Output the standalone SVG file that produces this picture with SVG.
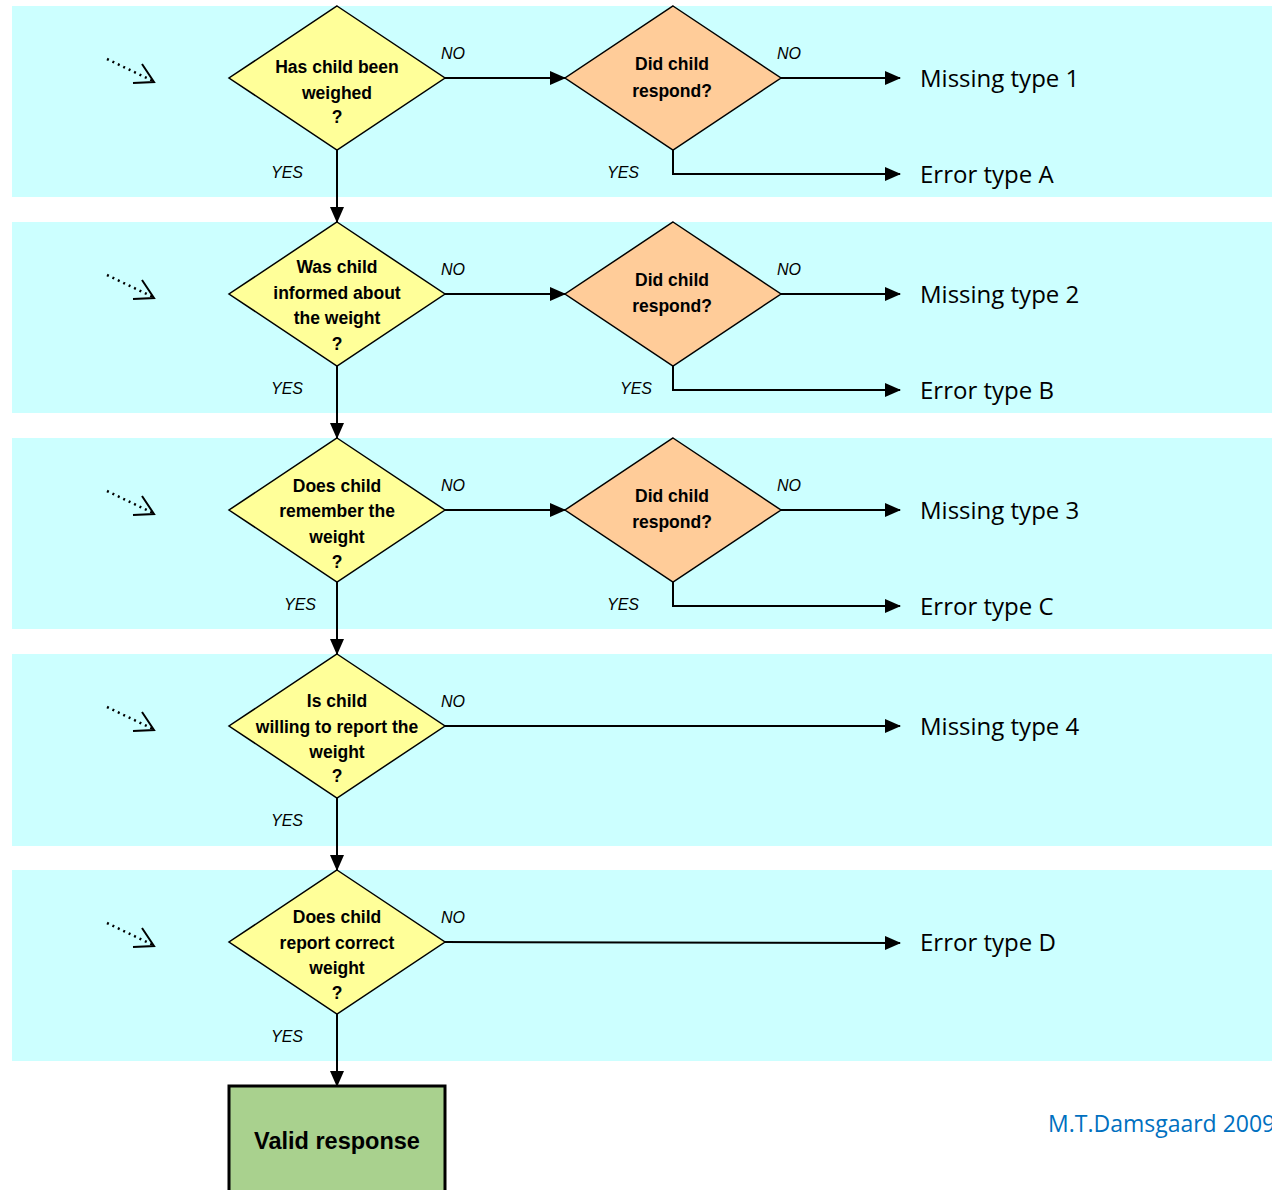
<svg xmlns="http://www.w3.org/2000/svg" width="1272" height="1190" viewBox="0 0 1272 1190">
<defs>
<marker id="ah" markerWidth="16" markerHeight="14" refX="15" refY="7" orient="auto" markerUnits="userSpaceOnUse">
<path d="M0,0 L16,7 L0,14 z" fill="#000"/>
</marker>
<g id="dotarrow">
<path d="M107,59 L153,81" stroke="#000" stroke-width="2.5" stroke-dasharray="2,4" fill="none"/>
<path d="M142,64 L154,82 L133,83" stroke="#000" stroke-width="2" fill="none"/>
</g>
</defs>
<style>
.band{fill:#ccffff}
.dq{fill:#ffff99;stroke:#000;stroke-width:1.5}
.dr{fill:#ffcc99;stroke:#000;stroke-width:1.5}
.t{font-family:"Liberation Sans",Arial,sans-serif;font-weight:bold;font-size:17.5px;text-anchor:middle;fill:#000}
.lbl{font-family:"Liberation Sans",Arial,sans-serif;font-style:italic;font-size:16px;text-anchor:middle;fill:#000}
.out{font-family:"Open Sans","Liberation Sans",sans-serif;font-size:24px;fill:#000}
.ln{stroke:#000;stroke-width:2;fill:none}
</style>
<rect width="1272" height="1190" fill="#fff"/>
<g id="bands">
<rect class="band" x="12" y="6" width="1260" height="191"/>
<rect class="band" x="12" y="222" width="1260" height="191"/>
<rect class="band" x="12" y="438" width="1260" height="191"/>
<rect class="band" x="12" y="654" width="1260" height="192"/>
<rect class="band" x="12" y="870" width="1260" height="191"/>
</g>
<g id="entry-arrows">
<use href="#dotarrow"/>
<use href="#dotarrow" y="216"/>
<use href="#dotarrow" y="432"/>
<use href="#dotarrow" y="648"/>
<use href="#dotarrow" y="864"/>
</g>
<g id="connectors">
<path class="ln" d="M445,78 L565,78" marker-end="url(#ah)"/>
<path class="ln" d="M781,78 L900,78" marker-end="url(#ah)"/>
<path class="ln" d="M673,150 L673,174 L900,174" marker-end="url(#ah)"/>
<path class="ln" d="M337,150 L337,222" marker-end="url(#ah)"/>
<path class="ln" d="M445,294 L565,294" marker-end="url(#ah)"/>
<path class="ln" d="M781,294 L900,294" marker-end="url(#ah)"/>
<path class="ln" d="M673,366 L673,390 L900,390" marker-end="url(#ah)"/>
<path class="ln" d="M337,366 L337,438" marker-end="url(#ah)"/>
<path class="ln" d="M445,510 L565,510" marker-end="url(#ah)"/>
<path class="ln" d="M781,510 L900,510" marker-end="url(#ah)"/>
<path class="ln" d="M673,582 L673,606 L900,606" marker-end="url(#ah)"/>
<path class="ln" d="M337,582 L337,654" marker-end="url(#ah)"/>
<path class="ln" d="M445,726 L900,726" marker-end="url(#ah)"/>
<path class="ln" d="M337,798 L337,870" marker-end="url(#ah)"/>
<path class="ln" d="M445,942 L900,943" marker-end="url(#ah)"/>
<path class="ln" d="M337,1014 L337,1086" marker-end="url(#ah)"/>
</g>
<g id="labels">
<text class="lbl" x="453" y="59">NO</text>
<text class="lbl" x="789" y="59">NO</text>
<text class="lbl" x="287" y="178">YES</text>
<text class="lbl" x="623" y="178">YES</text>
<text class="lbl" x="453" y="275">NO</text>
<text class="lbl" x="789" y="275">NO</text>
<text class="lbl" x="287" y="394">YES</text>
<text class="lbl" x="636" y="394">YES</text>
<text class="lbl" x="453" y="491">NO</text>
<text class="lbl" x="789" y="491">NO</text>
<text class="lbl" x="300" y="610">YES</text>
<text class="lbl" x="623" y="610">YES</text>
<text class="lbl" x="453" y="707">NO</text>
<text class="lbl" x="287" y="826">YES</text>
<text class="lbl" x="453" y="923">NO</text>
<text class="lbl" x="287" y="1042">YES</text>
</g>
<g id="q1">
<polygon class="dq" points="337,6 445,78 337,150 229,78"/>
<text class="t" x="337" y="73">Has child been</text>
<text class="t" x="337" y="99">weighed</text>
<text class="t" x="337" y="123">?</text>
</g>
<g id="r1">
<polygon class="dr" points="673,6 781,78 673,150 565,78"/>
<text class="t" x="672" y="70">Did child</text>
<text class="t" x="672" y="97">respond?</text>
</g>
<g id="q2">
<polygon class="dq" points="337,222 445,294 337,366 229,294"/>
<text class="t" x="337" y="273">Was child</text>
<text class="t" x="337" y="299">informed about</text>
<text class="t" x="337" y="324">the weight</text>
<text class="t" x="337" y="350">?</text>
</g>
<g id="r2">
<polygon class="dr" points="673,222 781,294 673,366 565,294"/>
<text class="t" x="672" y="286">Did child</text>
<text class="t" x="672" y="312">respond?</text>
</g>
<g id="q3">
<polygon class="dq" points="337,438 445,510 337,582 229,510"/>
<text class="t" x="337" y="492">Does child</text>
<text class="t" x="337" y="517">remember the</text>
<text class="t" x="337" y="543">weight</text>
<text class="t" x="337" y="568">?</text>
</g>
<g id="r3">
<polygon class="dr" points="673,438 781,510 673,582 565,510"/>
<text class="t" x="672" y="502">Did child</text>
<text class="t" x="672" y="528">respond?</text>
</g>
<g id="q4">
<polygon class="dq" points="337,654 445,726 337,798 229,726"/>
<text class="t" x="337" y="707">Is child</text>
<text class="t" x="337" y="733">willing to report the</text>
<text class="t" x="337" y="758">weight</text>
<text class="t" x="337" y="782">?</text>
</g>
<g id="q5">
<polygon class="dq" points="337,870 445,942 337,1014 229,942"/>
<text class="t" x="337" y="923">Does child</text>
<text class="t" x="337" y="949">report  correct</text>
<text class="t" x="337" y="974">weight</text>
<text class="t" x="337" y="999">?</text>
</g>
<g id="outcomes">
<text class="out" x="920" y="87">Missing type 1</text>
<text class="out" x="920" y="183">Error type A</text>
<text class="out" x="920" y="303">Missing type 2</text>
<text class="out" x="920" y="399">Error type B</text>
<text class="out" x="920" y="519">Missing type 3</text>
<text class="out" x="920" y="615">Error type C</text>
<text class="out" x="920" y="735">Missing type 4</text>
<text class="out" x="920" y="951">Error type D</text>
</g>
<g id="valid">
<rect x="229" y="1086" width="216" height="110" fill="#a9d18e" stroke="#000" stroke-width="3"/>
<text x="337" y="1149" font-family="Liberation Sans,Arial,sans-serif" font-weight="bold" font-size="23.5" text-anchor="middle">Valid response</text>
</g>
<text x="1048" y="1132" font-family="Open Sans,Liberation Sans,sans-serif" font-size="23" fill="#0070c0">M.T.Damsgaard 2009</text>
</svg>
